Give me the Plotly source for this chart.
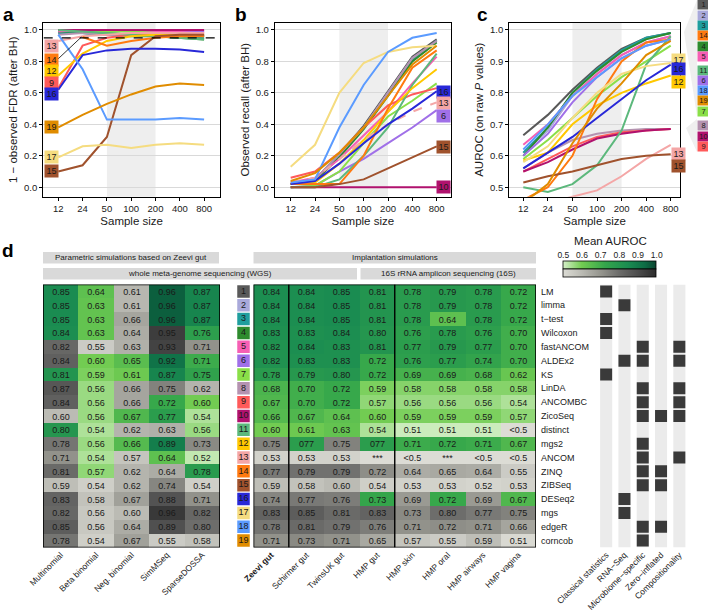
import plotly.graph_objects as go

W, H = 708, 612
FONT = "Liberation Sans, Arial, Helvetica, sans-serif"


def fx(p):
    return p / W


def fy(p):
    return 1 - p / H


# ---------------- data ----------------
sample_sizes = ["12", "24", "50", "100", "200", "400", "800"]
methods = ["LM", "limma", "t−test", "Wilcoxon", "fastANCOM", "ALDEx2", "KS", "LinDA",
           "ANCOMBC", "ZicoSeq", "distinct", "mgs2", "ANCOM", "ZINQ", "ZIBSeq", "DESeq2",
           "mgs", "edgeR", "corncob"]
method_colors = ["#595959", "#a9a9da", "#1f9e9e", "#2e8b2e", "#f65fb4", "#a070e8", "#8adf48",
                 "#b593b0", "#ff5a5a", "#b0126e", "#5cb87c", "#ffc800", "#f4a6a6", "#ff7a10",
                 "#a0522d", "#2828d8", "#f5dc80", "#5b9bff", "#e08c00"]

# panel a: 1 - observed FDR (after BH)
fdr_a = [
    [0.98, 0.98, 0.97, 0.97, 0.96, 0.96, 0.96],
    [0.98, 0.98, 0.97, 0.97, 0.96, 0.96, 0.96],
    [0.98, 0.98, 0.97, 0.96, 0.96, 0.95, 0.95],
    [0.99, 0.99, 0.98, 0.97, 0.96, 0.95, 0.94],
    [0.99, 1.00, 1.00, 1.00, 0.99, 0.99, 0.99],
    [1.00, 1.00, 1.00, 1.00, 1.00, 1.00, 0.99],
    [1.00, 1.00, 0.99, 0.99, 0.98, 0.97, 0.96],
    [0.97, 0.98, 0.97, 0.97, 0.97, 0.97, 0.97],
    [0.63, 0.90, 0.95, 0.97, 0.98, 0.98, 0.98],
    [1.00, 1.00, 1.00, 1.00, 1.00, 1.00, 1.00],
    [1.00, 0.99, 0.98, 0.97, 0.96, 0.95, 0.94],
    [0.71, 0.85, 0.93, 0.96, 0.97, 0.97, 0.97],
    [0.93, 0.96, 0.97, 0.98, 0.98, 0.98, 0.98],
    [None, 0.955, 0.90, 0.93, 0.95, 0.96, 0.96],
    [0.10, 0.14, 0.32, 0.84, 0.96, 0.97, 0.97],
    [0.62, 0.84, 0.87, 0.88, 0.88, 0.875, 0.86],
    [0.19, 0.26, 0.27, 0.25, 0.27, 0.28, 0.27],
    [0.97, 0.75, 0.43, 0.43, 0.43, 0.44, 0.43],
    [0.38, 0.46, 0.53, 0.59, 0.64, 0.66, 0.65],
]
fdr_threshold = 0.95

# panel b: observed recall (after BH)
recall_b = [
    [0.02, 0.05, 0.21, 0.39, 0.61, 0.83, 0.94],
    [0.02, 0.05, 0.20, 0.38, 0.60, 0.82, 0.93],
    [0.02, 0.05, 0.20, 0.38, 0.59, 0.81, 0.93],
    [0.02, 0.04, 0.19, 0.37, 0.58, 0.80, 0.92],
    [0.03, 0.06, 0.18, 0.33, 0.48, 0.66, 0.83],
    [0.00, 0.01, 0.10, 0.18, 0.28, 0.38, 0.49],
    [0.00, 0.01, 0.10, 0.28, 0.45, 0.55, 0.66],
    [0.02, 0.05, 0.21, 0.38, 0.60, 0.82, 0.93],
    [0.06, 0.10, 0.22, 0.38, 0.52, 0.59, 0.63],
    [0.00, 0.00, 0.00, 0.00, 0.00, 0.00, 0.00],
    [0.00, 0.00, 0.05, 0.20, 0.38, 0.65, 0.85],
    [0.02, 0.03, 0.15, 0.30, 0.48, 0.63, 0.75],
    [0.03, 0.06, 0.18, 0.30, 0.40, 0.48, 0.54],
    [0.02, 0.02, 0.02, 0.20, 0.50, 0.76, 0.87],
    [0.00, 0.00, 0.02, 0.05, 0.12, 0.19, 0.26],
    [0.02, 0.04, 0.15, 0.28, 0.40, 0.50, 0.61],
    [0.13, 0.27, 0.60, 0.79, 0.86, 0.89, 0.90],
    [0.03, 0.05, 0.38, 0.65, 0.86, 0.95, 0.98],
    [0.04, 0.09, 0.22, 0.38, 0.58, 0.78, 0.90],
]

# panel c: AUROC on raw P values
auroc_c = [
    [0.665, 0.73, 0.81, 0.88, 0.94, 0.975, 0.99],
    [0.61, 0.68, 0.79, 0.86, 0.92, 0.96, 0.98],
    [0.61, 0.69, 0.80, 0.875, 0.935, 0.975, 0.99],
    [0.60, 0.69, 0.80, 0.87, 0.93, 0.97, 0.99],
    [0.635, 0.70, 0.79, 0.86, 0.92, 0.96, 0.98],
    [0.60, 0.67, 0.77, 0.85, 0.91, 0.95, 0.97],
    [0.59, 0.65, 0.72, 0.79, 0.85, 0.90, 0.95],
    [0.56, 0.61, 0.65, 0.67, 0.68, 0.685, 0.685],
    [0.55, 0.59, 0.63, 0.66, 0.675, 0.68, 0.685],
    [0.55, 0.58, 0.62, 0.655, 0.67, 0.68, 0.685],
    [0.50, 0.485, 0.51, 0.57, 0.68, 0.89, 0.98],
    [0.585, 0.61, 0.70, 0.76, 0.80, 0.83, 0.855],
    [0.44, 0.45, 0.47, 0.49, 0.535, 0.59, 0.635],
    [0.46, 0.50, 0.60, 0.78, 0.90, 0.96, 0.97],
    [0.515, 0.535, 0.55, 0.57, 0.59, 0.60, 0.605],
    [0.56, 0.61, 0.66, 0.72, 0.78, 0.84, 0.89],
    [0.58, 0.63, 0.72, 0.80, 0.86, 0.885, 0.895],
    [0.62, 0.70, 0.79, 0.85, 0.91, 0.95, 0.97],
    [0.45, 0.51, 0.64, 0.75, 0.83, 0.92, 0.965],
]

# direct labels
a_label_ids = [13, 14, 12, 9, 16, 19, 17, 15]
a_label_y = [0.90, 0.81, 0.74, 0.665, 0.59, 0.385, 0.195, 0.105]
b_label_ids = [16, 13, 6, 15, 10]
b_label_y = [0.604, 0.534, 0.455, 0.258, 0.0]
c_label_ids = [17, 16, 12, 13, 15]
c_label_y = [0.905, 0.875, 0.836, 0.605, 0.566]
c_legend_groups = [[1, 2, 3, 14, 4, 5], [11, 6, 18, 19, 7], [8, 10, 9]]

# panel d heatmap
param_labels = ["Multinomial", "Beta binomial", "Neg. binomial", "SimMSeq", "SparseDOSSA"]
implant_labels = ["<b>Zeevi gut</b>", "Schirmer gut", "TwinsUK gut", "HMP gut", "HMP skin",
                  "HMP oral", "HMP airways", "HMP vagina"]
param_auroc = [
    ["0.85", "0.64", "0.61", "0.96", "0.87"],
    ["0.85", "0.63", "0.61", "0.96", "0.87"],
    ["0.85", "0.63", "0.66", "0.96", "0.87"],
    ["0.84", "0.63", "0.64", "0.95", "0.76"],
    ["0.82", "0.55", "0.63", "0.93", "0.71"],
    ["0.84", "0.60", "0.65", "0.92", "0.71"],
    ["0.81", "0.59", "0.61", "0.87", "0.75"],
    ["0.87", "0.56", "0.66", "0.75", "0.62"],
    ["0.84", "0.56", "0.66", "0.72", "0.60"],
    ["0.60", "0.56", "0.67", "0.77", "0.54"],
    ["0.80", "0.54", "0.62", "0.63", "0.56"],
    ["0.78", "0.56", "0.66", "0.89", "0.73"],
    ["0.71", "0.54", "0.57", "0.64", "0.52"],
    ["0.81", "0.57", "0.62", "0.64", "0.78"],
    ["0.59", "0.54", "0.62", "0.74", "0.54"],
    ["0.83", "0.58", "0.67", "0.88", "0.71"],
    ["0.82", "0.56", "0.60", "0.96", "0.82"],
    ["0.85", "0.56", "0.64", "0.89", "0.80"],
    ["0.78", "0.54", "0.67", "0.55", "0.58"],
]
param_fdr_ok = [
    [1, 1, 0, 1, 1], [1, 1, 0, 1, 1], [1, 1, 0, 1, 1], [1, 1, 0, 0, 1], [0, 0, 0, 0, 0],
    [0, 1, 1, 1, 1], [1, 1, 1, 1, 1], [0, 1, 0, 0, 0], [0, 1, 0, 1, 1], [0, 1, 1, 1, 1],
    [1, 1, 0, 0, 1], [0, 1, 1, 1, 0], [0, 1, 0, 1, 1], [0, 1, 0, 0, 1], [0, 0, 0, 0, 0],
    [0, 0, 0, 0, 0], [0, 0, 0, 0, 0], [0, 0, 0, 0, 0], [0, 0, 0, 0, 0],
]
implant_auroc = [
    ["0.84", "0.84", "0.85", "0.81", "0.78", "0.79", "0.78", "0.72"],
    ["0.84", "0.84", "0.85", "0.81", "0.78", "0.79", "0.78", "0.72"],
    ["0.84", "0.84", "0.85", "0.81", "0.78", "0.64", "0.78", "0.72"],
    ["0.83", "0.83", "0.84", "0.80", "0.76", "0.78", "0.76", "0.70"],
    ["0.82", "0.84", "0.83", "0.81", "0.77", "0.79", "0.77", "0.70"],
    ["0.82", "0.83", "0.83", "0.72", "0.76", "0.77", "0.74", "0.70"],
    ["0.78", "0.79", "0.80", "0.72", "0.69", "0.69", "0.68", "0.62"],
    ["0.68", "0.70", "0.72", "0.59", "0.58", "0.58", "0.58", "0.58"],
    ["0.67", "0.70", "0.72", "0.57", "0.56", "0.56", "0.56", "0.54"],
    ["0.66", "0.67", "0.64", "0.60", "0.59", "0.59", "0.59", "0.57"],
    ["0.60", "0.61", "0.63", "0.54", "0.51", "0.51", "0.51", "<0.5"],
    ["0.75", "077", "0.75", "077", "0.71", "0.72", "0.71", "0.67"],
    ["0.53", "0.53", "0.53", "***", "<0.5", "***", "<0.5", "<0.5"],
    ["0.77", "0.79", "0.79", "0.72", "0.64", "0.65", "0.64", "0.55"],
    ["0.59", "0.58", "0.60", "0.54", "0.53", "0.53", "0.52", "0.53"],
    ["0.74", "0.77", "0.76", "0.73", "0.69", "0.72", "0.69", "0.67"],
    ["0.83", "0.85", "0.81", "0.83", "0.73", "0.80", "0.77", "0.75"],
    ["0.78", "0.81", "0.79", "0.76", "0.71", "0.72", "0.71", "0.66"],
    ["0.71", "0.73", "0.71", "0.65", "0.57", "0.55", "0.59", "0.51"],
]
implant_fdr_ok = [
    [1] * 8, [1] * 8, [1] * 8, [1] * 8, [1] * 8, [1] * 8, [1] * 8, [1] * 8, [1] * 8, [1] * 8,
    [1, 1, 1, 1, 1, 1, 1, 0],
    [0, 1, 0, 1, 1, 1, 1, 1],
    [0] * 8, [0] * 8, [0] * 8,
    [0, 0, 0, 1, 0, 1, 0, 1],
    [0] * 8, [0] * 8, [0] * 8,
]
categories = ["Classical statistics", "RNA−Seq", "Microbiome−specific", "Zero−inflated",
              "Compositionality"]
method_categories = [[0], [1], [0], [0], [2, 4], [1, 2, 4], [0], [2, 4], [2, 4], [2, 3, 4], [],
                     [2], [2, 4], [2, 3], [2, 3], [1], [1], [2, 3], [2]]
colorbar_ticks = [0.5, 0.6, 0.7, 0.8, 0.9, 1.0]

green_scale = [[0.0, "#d6efc9"], [0.2, "#72cc52"], [0.45, "#35a64b"], [0.7, "#1a8c51"],
               [0.88, "#0d6c45"], [1.0, "#0b4430"]]
grey_scale = [[0.0, "#dcdcd5"], [0.2, "#bbbbb4"], [0.4, "#96968f"], [0.6, "#6d6d6b"],
              [0.8, "#4d4d4d"], [1.0, "#2c2c2c"]]


def auroc_value(s):
    if s.startswith("<") or s.startswith("*"):
        return 0.5
    return float(s) if "." in s else float(s) / 100


fig = go.Figure()
xi = list(range(len(sample_sizes)))

# ---------------- panels a, b, c ----------------
panels = [("x", "y", fdr_a), ("x2", "y2", recall_b), ("x3", "y3", auroc_c)]
for xa, ya, data in panels:
    for i, vals in enumerate(data):
        dash = "dash" if (xa == "x2" and i == 12) else "solid"
        fig.add_trace(go.Scatter(x=xi, y=vals, mode="lines", xaxis=xa, yaxis=ya,
                                 line=dict(color=method_colors[i], width=2, dash=dash),
                                 hoverinfo="skip", connectgaps=False))

fig.add_trace(go.Scatter(x=[xi[0] - 0.6, xi[-1] + 0.6], y=[fdr_threshold, fdr_threshold],
                         mode="lines", xaxis="x", yaxis="y",
                         line=dict(color="black", width=1.3, dash="dash"), hoverinfo="skip"))

shapes = []
annotations = []

# grey sample size band 50-200
for xa, ya in [("x", "y"), ("x2", "y2"), ("x3", "y3")]:
    shapes.append(dict(type="rect", xref=xa, yref=f"{ya} domain", x0=2, x1=4, y0=0, y1=1,
                       fillcolor="#eeeeee", line=dict(width=0), layer="below"))


def label_box(xref, yref, x, y, mid):
    annotations.append(dict(xref=xref, yref=yref, x=x, y=y, text=str(mid), showarrow=False,
                            bgcolor=method_colors[mid - 1],
                            font=dict(size=9, color="#1a1a1a", family=FONT),
                            width=12, height=10.5, borderpad=0.5, xanchor="center",
                            yanchor="middle"))


for mid, yv in zip(a_label_ids, a_label_y):
    label_box("x", "y", -0.29, yv, mid)
for mid, yv in zip(b_label_ids, b_label_y):
    label_box("x2", "y2", 6.29, yv, mid)
for mid, yv in zip(c_label_ids, c_label_y):
    label_box("x3", "y3", 6.30, yv, mid)

# leader line for label 14 in panel a
zinq = 13
shapes.append(dict(type="line", xref="x", yref="y", x0=-0.05, y0=a_label_y[1], x1=xi[1] - 0.05,
                   y1=fdr_a[zinq][1], line=dict(color="black", width=0.8)))

# wedges and legend on the right of panel c
shapes.append(dict(type="path", xref="paper", yref="paper",
                   path=f"M {fx(697)},{fy(0)} L {fx(684)},{fy(32)} L {fx(697)},{fy(116)} Z",
                   fillcolor="#efefef", line=dict(width=0), layer="below"))
shapes.append(dict(type="path", xref="paper", yref="paper",
                   path=f"M {fx(697)},{fy(119)} L {fx(686)},{fy(128)} L {fx(697)},{fy(152)} Z",
                   fillcolor="#efefef", line=dict(width=0), layer="below"))
starts = [5, 70, 126]
for g, grp in enumerate(c_legend_groups):
    for j, mid in enumerate(grp):
        ypx = starts[g] + 10.3 * j
        annotations.append(dict(xref="paper", yref="paper", x=fx(697), y=fy(ypx),
                                xanchor="left", yanchor="middle", text=str(mid), showarrow=False,
                                bgcolor=method_colors[mid - 1], width=11, height=9,
                                borderpad=0, align="center",
                                font=dict(size=7.5, color="#1a1a1a", family=FONT)))

# ---------------- panel d ----------------
n = len(methods)
rows = list(range(n))


def split(vals, ok):
    zg, zr, tg, tr = [], [], [], []
    for vr, okr in zip(vals, ok):
        zg.append([auroc_value(v) if o else None for v, o in zip(vr, okr)])
        zr.append([None if o else auroc_value(v) for v, o in zip(vr, okr)])
        tg.append([v if o else "" for v, o in zip(vr, okr)])
        tr.append(["" if o else v for v, o in zip(vr, okr)])
    return zg, zr, tg, tr


cb_common = dict(orientation="h", lenmode="pixels", len=93.4, thicknessmode="pixels",
                 thickness=8.3, xanchor="left", x=fx(563.3), yanchor="top", xpad=0, ypad=0,
                 outlinewidth=0.8, outlinecolor="black", ticks="", showticklabels=False)

cell_font = dict(size=9, color="#1a1a1a", family=FONT)
for k, (vals, ok, xa, ncol) in enumerate([(param_auroc, param_fdr_ok, "x4", 5),
                                          (implant_auroc, implant_fdr_ok, "x6", 8)]):
    zg, zr, tg, tr = split(vals, ok)
    cols = list(range(ncol))
    fig.add_trace(go.Heatmap(z=zg, x=cols, y=rows, text=tg, texttemplate="%{text}",
                             textfont=cell_font, colorscale=green_scale, zmin=0.5, zmax=1.0,
                             xaxis=xa, yaxis="y4", hoverinfo="skip", showscale=(k == 0),
                             colorbar=dict(y=fy(260.7), **cb_common)))
    fig.add_trace(go.Heatmap(z=zr, x=cols, y=rows, text=tr, texttemplate="%{text}",
                             textfont=cell_font, colorscale=grey_scale, zmin=0.5, zmax=1.0,
                             xaxis=xa, yaxis="y4", hoverinfo="skip", showscale=(k == 0),
                             colorbar=dict(y=fy(269.0), **cb_common)))

# method number column
fig.add_trace(go.Scatter(x=[0] * n, y=rows, mode="markers+text", xaxis="x5", yaxis="y4",
                         marker=dict(symbol="square", size=12.5, color=method_colors,
                                     line=dict(width=0)),
                         text=[str(i + 1) for i in rows], textposition="middle center",
                         textfont=dict(size=9, color="#1a1a1a", family=FONT),
                         hoverinfo="skip"))

# category matrix
cx, cy = [], []
for i, cats in enumerate(method_categories):
    for c in cats:
        cx.append(c)
        cy.append(i)
fig.add_trace(go.Scatter(x=cx, y=cy, mode="markers", xaxis="x7", yaxis="y4",
                         marker=dict(symbol="square", size=12, color="#3a3a3a",
                                     line=dict(width=0)), hoverinfo="skip"))
for c in range(len(categories)):
    shapes.append(dict(type="rect", xref="x7", yref="y4", x0=c - 0.33, x1=c + 0.33, y0=-0.5,
                       y1=n - 0.5, fillcolor="#ebebeb", line=dict(width=0), layer="below"))

# colorbar tick axis
fig.add_trace(go.Scatter(x=[colorbar_ticks[0]], y=[0], mode="markers", xaxis="x8", yaxis="y8",
                         marker=dict(opacity=0), hoverinfo="skip"))

# heatmap borders and separators
shapes.append(dict(type="rect", xref="x4", yref="y4", x0=-0.5, x1=len(param_labels) - 0.5,
                   y0=-0.5, y1=n - 0.5, line=dict(color="black", width=1.6)))
shapes.append(dict(type="rect", xref="x6", yref="y4", x0=-0.5, x1=len(implant_labels) - 0.5,
                   y0=-0.5, y1=n - 0.5, line=dict(color="black", width=1.6)))
for xs in [0.5, 3.5]:
    shapes.append(dict(type="line", xref="x6", yref="y4", x0=xs, x1=xs, y0=-0.5, y1=n - 0.5,
                       line=dict(color="black", width=1.4)))

# header bars
headers = [("Parametric simulations based on Zeevi gut", 43, 219, 252, 263.5),
           ("whole meta-genome sequencing (WGS)", 43, 357, 268, 279.5),
           ("Implantation simulations", 253.5, 536, 252, 263.5),
           ("16S rRNA amplicon sequencing (16S)", 360.5, 536, 268, 279.5)]
for txt, x0, x1, y0, y1 in headers:
    shapes.append(dict(type="rect", xref="paper", yref="paper", x0=fx(x0), x1=fx(x1),
                       y0=fy(y1), y1=fy(y0), fillcolor="#d9d9d9", line=dict(width=0)))
    annotations.append(dict(xref="paper", yref="paper", x=fx((x0 + x1) / 2), y=fy((y0 + y1) / 2),
                            xanchor="center", yanchor="middle", text=txt, showarrow=False,
                            font=dict(size=8, color="#1a1a1a", family=FONT)))

annotations.append(dict(xref="paper", yref="paper", x=fx(610), y=fy(241), xanchor="center",
                        yanchor="middle", text="Mean AUROC", showarrow=False,
                        font=dict(size=11.5, color="#1a1a1a", family=FONT)))

for letter, px_, py_ in [("a", 8, 14), ("b", 241, 14), ("c", 482, 14), ("d", 8, 250)]:
    annotations.append(dict(xref="paper", yref="paper", x=fx(px_), y=fy(py_), xanchor="center",
                            yanchor="middle", text=f"<b>{letter}</b>", showarrow=False,
                            font=dict(size=19, color="black", family=FONT)))

# ---------------- axes ----------------
tickfont = dict(size=9.5, color="#1a1a1a", family=FONT)
hm_tickfont = dict(size=8.5, color="#1a1a1a", family=FONT)
titlefont = dict(size=11.5, color="#1a1a1a", family=FONT)


def panel_x(domain, rng):
    return dict(domain=[fx(domain[0]), fx(domain[1])], range=rng, tickvals=xi,
                ticktext=sample_sizes, ticks="outside", ticklen=3, tickcolor="black",
                showline=True, linecolor="black", linewidth=1.4, mirror=True, showgrid=False,
                zeroline=False, tickfont=tickfont, automargin=False,
                title=dict(text="Sample size", font=titlefont, standoff=3))


def panel_y(rng, tickvals, title):
    return dict(domain=[fy(196.7), fy(22.7)], range=rng, tickvals=tickvals,
                ticktext=[f"{v:.1f}" for v in tickvals], ticks="outside", ticklen=3,
                tickcolor="black", showline=True, linecolor="black", linewidth=1.4, mirror=True,
                showgrid=True, gridcolor="#d9d9d9", gridwidth=1, zeroline=False, tickfont=tickfont,
                automargin=False, title=dict(text=title, font=titlefont, standoff=3))


ticks01 = [0.0, 0.2, 0.4, 0.6, 0.8, 1.0]
ticks05 = [0.5, 0.6, 0.7, 0.8, 0.9, 1.0]

hm_rows = dict(domain=[fy(547.5), fy(284.5)], range=[n - 0.5, -0.5])
hm_x_common = dict(anchor="y4", tickangle=-45, ticks="", showgrid=False,
                   zeroline=False, showline=False, tickfont=hm_tickfont, automargin=False)

layout = dict(
    width=W, height=H, margin=dict(l=0, r=0, t=0, b=0, autoexpand=False), showlegend=False,
    paper_bgcolor="white", plot_bgcolor="white", font=dict(family=FONT, color="#1a1a1a"),
    xaxis=dict(anchor="y", **panel_x((43.3, 220), [-0.617, 6.654])),
    yaxis=dict(anchor="x", **panel_y([-0.06, 1.046], ticks01, "1 − observed FDR (after BH)")),
    xaxis2=dict(anchor="y2", **panel_x((275, 450.7), [-0.645, 6.576])),
    yaxis2=dict(anchor="x2", **panel_y([-0.06, 1.046], ticks01, "Observed recall (after BH)")),
    xaxis3=dict(anchor="y3", **panel_x((509.3, 680), [-0.57, 6.378])),
    yaxis3=dict(anchor="x3", **panel_y([0.47, 1.023], ticks05,
                                       "AUROC (on raw <i>P</i> values)")),
    xaxis4=dict(domain=[fx(43), fx(220)], range=[-0.5, 4.5],
                tickvals=list(range(len(param_labels))), ticktext=param_labels, **hm_x_common),
    xaxis5=dict(anchor="y4", domain=[fx(236.5), fx(250.5)], range=[-0.5, 0.5], visible=False),
    xaxis6=dict(domain=[fx(253.5), fx(536)], range=[-0.5, 7.5],
                tickvals=list(range(len(implant_labels))), ticktext=implant_labels,
                **hm_x_common),
    xaxis7=dict(domain=[fx(597), fx(688.5)], range=[-0.5, 4.5],
                tickvals=list(range(len(categories))), ticktext=categories, **hm_x_common),
    yaxis4=dict(anchor="free", position=fx(536), side="right", tickvals=rows, ticktext=methods,
                ticks="", showgrid=False, zeroline=False, showline=False, ticklabelstandoff=4,
                automargin=False,
                tickfont=dict(size=9, color="#1a1a1a", family=FONT), **hm_rows),
    xaxis8=dict(anchor="y8", domain=[fx(563.3), fx(656.7)], range=[0.5, 1.0], side="top",
                tickvals=colorbar_ticks, ticktext=[f"{v:.1f}" for v in colorbar_ticks],
                ticks="", showgrid=False, zeroline=False, showline=False, tickfont=hm_tickfont,
                automargin=False),
    yaxis8=dict(anchor="x8", domain=[fy(277.3), fy(260.7)], range=[0, 1], visible=False),
    shapes=shapes, annotations=annotations,
)
fig.update_layout(**layout)
fig.write_html("out.html", config={"displayModeBar": False},
               post_script="document.body.style.margin='0';document.body.style.overflow='hidden';")
